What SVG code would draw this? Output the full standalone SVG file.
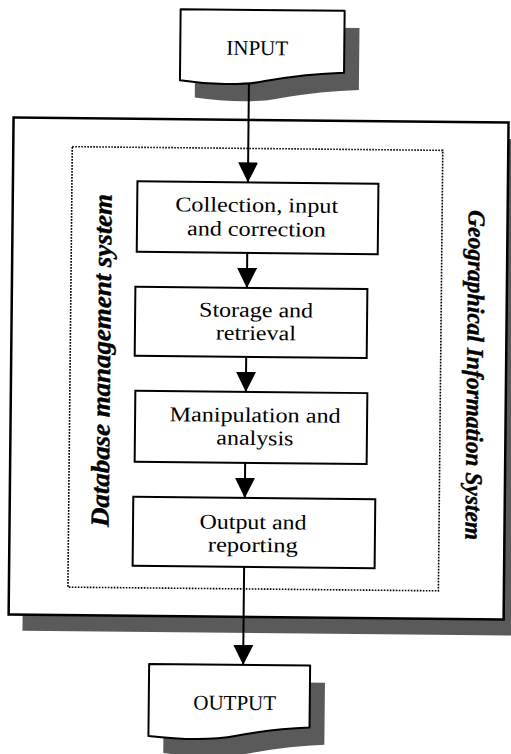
<svg xmlns="http://www.w3.org/2000/svg" width="511" height="754" viewBox="0 0 511 754">
  <style>
    .shadow { fill: #5a5a5a; stroke: none; }
    .frame { fill: #fff; stroke: #000; stroke-width: 2.5; }
    .dots { fill: none; stroke: #000; stroke-width: 1.6; stroke-dasharray: 1.6 1.4; }
    .box { fill: #fff; stroke: #000; stroke-width: 2; }
    .doc { fill: #fff; stroke: #000; stroke-width: 2; stroke-linejoin: round; }
    .lbl { font-family: "Liberation Serif", "Times New Roman", serif; font-size: 21px; fill: #000; text-anchor: middle; }
    .io { font-family: "Liberation Serif", "Times New Roman", serif; font-size: 21px; fill: #000; text-anchor: middle; }
    .side { font-family: "Liberation Serif", "Times New Roman", serif; font-weight: bold; font-style: italic; fill: #000; stroke: #000; stroke-width: 0.4; text-anchor: middle; }
    .flow { stroke: #000; stroke-width: 2; fill: none; marker-end: url(#head); }
  </style>
  <defs>
    <marker id="head" markerUnits="userSpaceOnUse" markerWidth="20" markerHeight="20" viewBox="0 0 20 20" refX="20" refY="10" orient="auto">
      <path d="M0,0 L20,10 L0,20 Z" fill="#000"/>
    </marker>
    <path id="inputShape" d="M177,10 L341,10 L341,72 C316,73 290,76 262,81 C240,86 205,85 177,81 Z"/>
    <path id="outputShape" d="M152,665 L313,665 L313,727 C290,728 265,731 240,736 C215,741 180,740 152,737 Z"/>
  </defs>
  <rect width="511" height="754" fill="#fff"/>
  <g transform="rotate(0.57 255 377)">
    <!-- Geographical Information System frame -->
    <g id="gis-frame">
      <rect class="shadow" x="25" y="136" width="496" height="497"/>
      <rect class="frame" x="11" y="120" width="495" height="497"/>
      <text class="side" font-size="24" transform="translate(467 373) rotate(90)" textLength="330" lengthAdjust="spacingAndGlyphs">Geographical Information System</text>
    </g>
    <!-- Database management system frame -->
    <g id="dbms-frame">
      <rect class="dots" x="70" y="148.5" width="370.5" height="440.5"/>
      <text class="side" font-size="26" transform="translate(110 362) rotate(-90)" textLength="333" lengthAdjust="spacingAndGlyphs">Database management system</text>
    </g>
    <g id="input">
      <use href="#inputShape" class="shadow" transform="translate(15 17)"/>
      <use href="#inputShape" class="doc"/>
      <text class="io" x="254" y="55">INPUT</text>
    </g>
    <!-- process steps: glyphs widened to the printed line widths -->
    <g id="step-collection">
      <rect class="box" x="135.5" y="182.5" width="241" height="70.5"/>
      <text class="lbl" x="255" y="212" textLength="163" lengthAdjust="spacingAndGlyphs">Collection, input</text>
      <text class="lbl" x="255" y="236" textLength="139" lengthAdjust="spacingAndGlyphs">and correction</text>
    </g>
    <g id="step-storage">
      <rect class="box" x="134.5" y="288" width="232" height="69"/>
      <text class="lbl" x="255.5" y="317" textLength="114" lengthAdjust="spacingAndGlyphs">Storage and</text>
      <text class="lbl" x="255.5" y="340" textLength="80" lengthAdjust="spacingAndGlyphs">retrieval</text>
    </g>
    <g id="step-analysis">
      <rect class="box" x="135.5" y="392" width="232" height="71"/>
      <text class="lbl" x="255.5" y="422" textLength="171" lengthAdjust="spacingAndGlyphs">Manipulation and</text>
      <text class="lbl" x="255.5" y="445" textLength="77" lengthAdjust="spacingAndGlyphs">analysis</text>
    </g>
    <g id="step-reporting">
      <rect class="box" x="134.5" y="498" width="242" height="69"/>
      <text class="lbl" x="254.5" y="529" textLength="107" lengthAdjust="spacingAndGlyphs">Output and</text>
      <text class="lbl" x="254.5" y="552" textLength="90" lengthAdjust="spacingAndGlyphs">reporting</text>
    </g>
    <g id="output">
      <use href="#outputShape" class="shadow" transform="translate(15 17)"/>
      <use href="#outputShape" class="doc"/>
      <text class="io" x="238" y="710">OUTPUT</text>
    </g>
    <g id="connectors">
      <line class="flow" x1="246" y1="83" x2="246" y2="182.5"/>
      <line class="flow" x1="246" y1="253" x2="246" y2="288"/>
      <line class="flow" x1="246" y1="357" x2="246" y2="392"/>
      <line class="flow" x1="246" y1="463" x2="246" y2="498"/>
      <line class="flow" x1="246" y1="567" x2="246" y2="665"/>
    </g>
  </g>
</svg>
